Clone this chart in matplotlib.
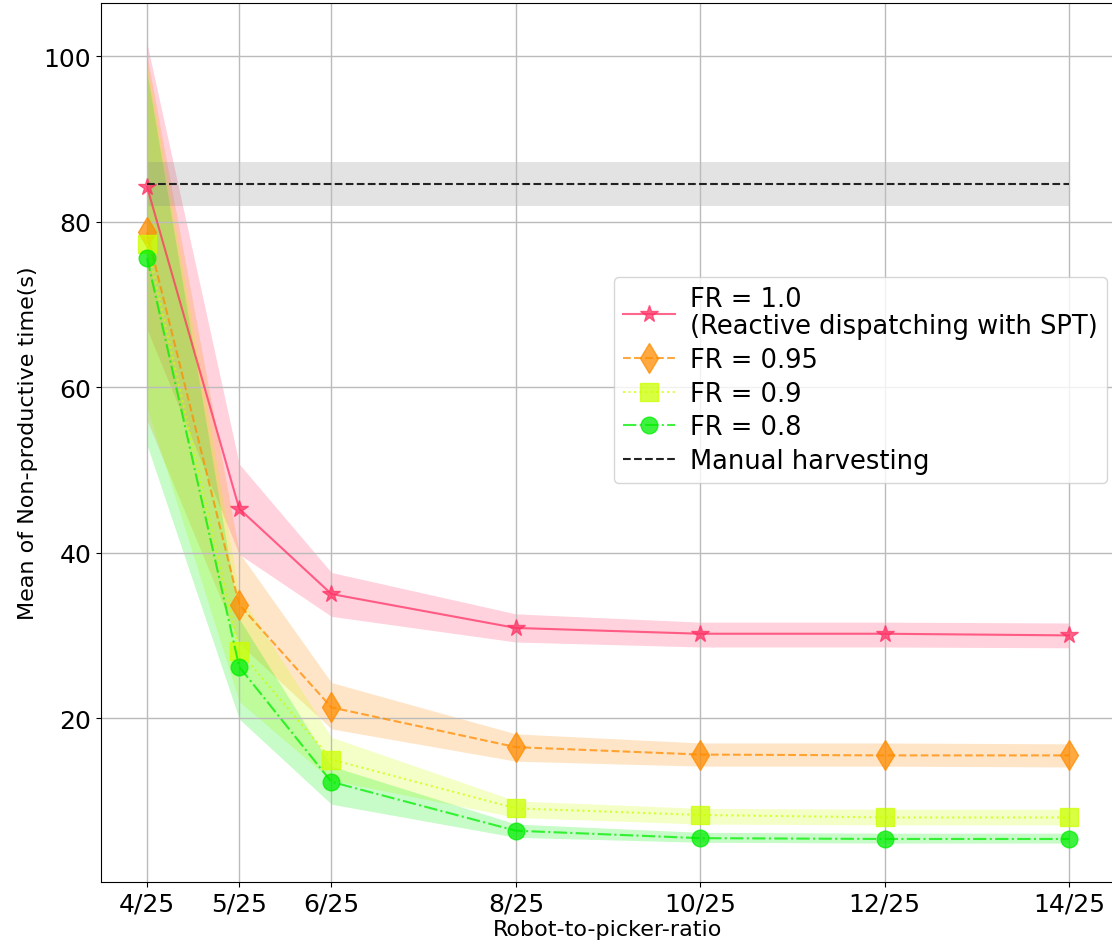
import numpy as np
import matplotlib
matplotlib.use("Agg")
import matplotlib.pyplot as plt

# robot-to-picker ratio (robots per 25 pickers)
ratio = [4, 5, 6, 8, 10, 12, 14]
ratio_labels = ["4/25", "5/25", "6/25", "8/25", "10/25", "12/25", "14/25"]

fr10_mean = [84.2, 45.3, 35.0, 30.9, 30.2, 30.2, 30.0]
fr10_low = [67.0, 39.8, 32.3, 29.2, 28.6, 28.6, 28.5]
fr10_high = [101.5, 50.7, 37.6, 32.6, 31.6, 31.6, 31.5]

fr095_mean = [78.7, 33.7, 21.3, 16.5, 15.6, 15.5, 15.5]
fr095_low = [56.0, 29.0, 18.7, 14.8, 14.2, 14.2, 14.1]
fr095_high = [100.0, 40.0, 24.3, 18.1, 17.0, 17.0, 16.9]

fr09_mean = [77.3, 28.1, 15.0, 9.1, 8.3, 8.0, 8.0]
fr09_low = [57.5, 22.0, 12.5, 8.0, 7.2, 7.1, 7.1]
fr09_high = [99.0, 35.0, 17.7, 10.0, 9.1, 9.0, 9.0]

fr08_mean = [75.6, 26.2, 12.3, 6.4, 5.5, 5.4, 5.4]
fr08_low = [53.0, 19.9, 9.6, 5.6, 5.0, 4.9, 4.9]
fr08_high = [98.0, 32.0, 14.2, 7.2, 6.2, 6.1, 6.1]

manual_mean = 84.5
manual_low = 81.9
manual_high = 87.2

fig = plt.figure(figsize=(11.12, 9.45), dpi=100)
ax = fig.add_axes([0.0908, 0.0656, 0.912, 0.930])

series = [
    (fr10_mean, fr10_low, fr10_high, "#ff3366", "*", "-", 13, "FR = 1.0\n(Reactive dispatching with SPT)"),
    (fr095_mean, fr095_low, fr095_high, "#ff8c00", "d", "--", 15, "FR = 0.95"),
    (fr09_mean, fr09_low, fr09_high, "#ccff00", "s", ":", 13, "FR = 0.9"),
    (fr08_mean, fr08_low, fr08_high, "#00ee00", "o", "-.", 12, "FR = 0.8"),
]

for mean, low, high, col, mk, ls, ms, lab in series:
    ax.fill_between(ratio, low, high, color=col, alpha=0.22, linewidth=0)
    ax.plot(ratio, mean, color=col, marker=mk, linestyle=ls, markersize=ms,
            linewidth=1.5, alpha=0.75, label=lab)

ax.fill_between([ratio[0], ratio[-1]], manual_low, manual_high, color="gray", alpha=0.22, linewidth=0)
ax.plot([ratio[0], ratio[-1]], [manual_mean, manual_mean], color="#222222", linestyle="--",
        linewidth=1.5, label="Manual harvesting")

ax.set_xlim(3.5, 14.5)
ax.set_ylim(0.2, 106.4)
ax.set_xticks(ratio)
ax.set_xticklabels(ratio_labels)
ax.set_yticks([20, 40, 60, 80, 100])
ax.tick_params(labelsize=18)
ax.grid(True, color="#bbbbbb", linewidth=1.0)
ax.set_xlabel("Robot-to-picker-ratio", fontsize=16, labelpad=2)
ax.set_ylabel("Mean of Non-productive time(s)", fontsize=16)

leg = ax.legend(loc="upper left", bbox_to_anchor=(0.506, 0.688), fontsize=18.5,
                framealpha=0.8, borderaxespad=0, labelspacing=0.3,
                borderpad=0.35, handletextpad=0.6)
for t in leg.get_texts():
    t.set_linespacing(1.05)

fig.savefig("out.png", dpi=100)
